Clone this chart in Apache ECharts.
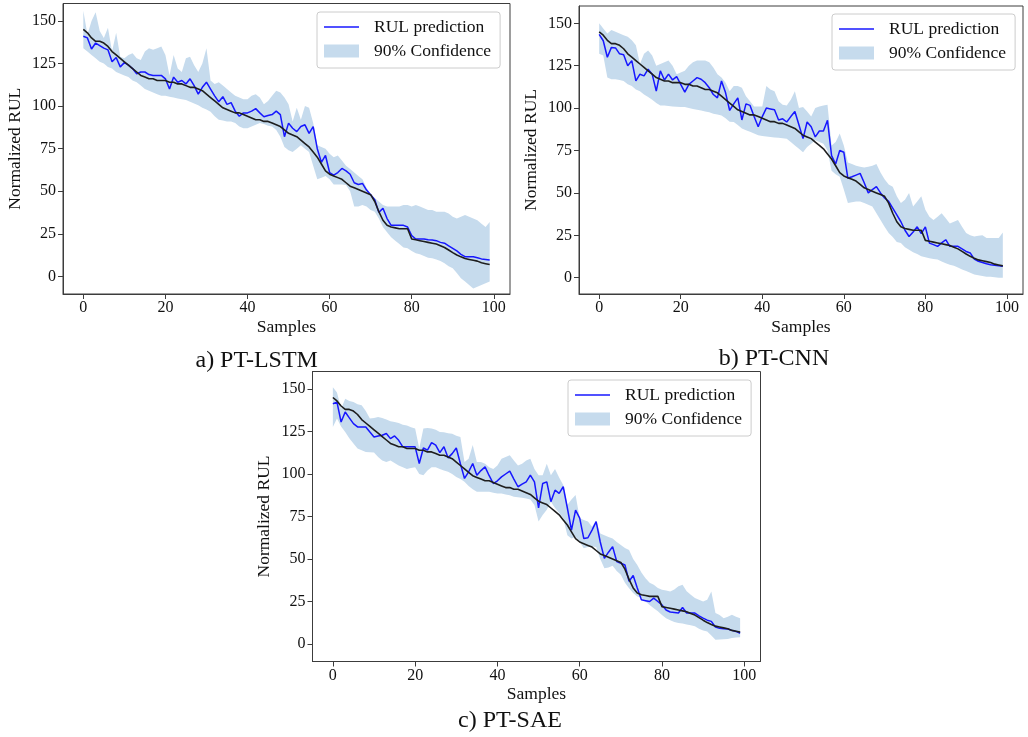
<!DOCTYPE html>
<html>
<head>
<meta charset="utf-8">
<title>RUL prediction</title>
<script src="https://cdn.jsdelivr.net/npm/echarts@6.0.0/dist/echarts.min.js"></script>
<style>
  html, body { margin: 0; padding: 0; background: #fff; }
  #main { width: 1028px; height: 737px; }
</style>
</head>
<body>
<div id="main"></div>
<script>
// 全局样式
const fontFamily = '"Liberation Serif", "Times New Roman", serif';
const textColor = '#111';
const frameColor = '#3c3c3c';
const bandColor = '#c6dbed';
const predColor = '#1717ff';
const trueColor = '#1e1e1e';

// 刻度
const xTicks = [0, 20, 40, 60, 80, 100];
const yTicks = [0, 25, 50, 75, 100, 125, 150];

// 样本编号 0..99
const samples = Array.from({length: 100}, (v, i) => i);

// 真实 RUL（三幅图相同）
const trueRul = [
  145, 143, 140, 138, 138, 137, 135, 132, 130, 128, 126, 124, 122, 120, 118, 117, 116, 116, 115, 115,
  115, 114, 114, 113, 113, 112, 111, 111, 110, 109, 107, 105, 103, 101, 99, 98, 97, 96, 96, 95,
  94, 93, 92, 92, 91, 91, 90, 89, 88, 86, 84, 83, 82, 80, 78, 76, 73, 70, 66, 62,
  60, 59, 58, 57, 55, 53, 52, 51, 50, 49, 48, 44, 38, 33, 30, 29, 28.5, 28, 28, 28,
  22, 21.5, 21, 20.5, 20, 19.5, 19, 18, 17, 15.5, 14, 12.6, 11.5, 10.5, 10, 9.5, 9, 8, 7.5, 7
];

// a) PT-LSTM
const predLSTM = [
  141, 140, 133.5, 137, 135.5, 134, 133, 126, 128.5, 123, 125.5, 124, 122, 119, 120, 120, 118.5, 118, 118, 118,
  116, 110, 117, 114, 115, 113, 116, 112, 107, 111, 114, 110, 106, 102.5, 105.5, 101, 102, 97, 94, 96,
  96, 97, 98.5, 96, 93.7, 94.5, 95, 97, 95, 82, 90, 87, 85, 88, 89, 84, 88, 75, 67, 71,
  61, 59.5, 61, 63.4, 62, 60, 55, 54, 54.6, 50.7, 48, 45, 37.6, 40, 34, 30, 30, 30, 30, 29,
  24, 22, 22, 22, 21.5, 21.4, 21, 20, 19.5, 18, 16.5, 15, 13, 11.6, 11.6, 11.6, 11, 10.3, 10, 9.7
];
const lowLSTM = [
  134, 132, 130, 128, 126, 125, 123, 122, 120, 119, 118, 117, 115, 114, 112, 110, 109, 108, 107, 106,
  106, 105.5, 105, 104.5, 104, 103.5, 102.5, 101.5, 100.5, 99, 98, 96.7, 94, 92, 91.5, 91, 91, 90, 88, 87,
  87, 88, 89, 90, 89.5, 88.5, 88, 86, 82, 76, 74, 73, 75, 77, 75, 73, 65, 57, 58, 59,
  57, 54, 54, 54, 53.7, 50, 41, 41, 42, 41, 39, 38, 34, 29, 26, 23, 21, 19, 17, 16.5,
  15, 13.6, 13, 12, 11, 10.7, 10, 9, 7.7, 6, 4.8, 2, -1, -3, -5, -7, -6, -5, -4, -3
];
const highLSTM = [
  156, 142, 150, 155, 144, 140, 146, 132, 143, 129, 128, 130, 131, 128, 127, 132, 134, 133, 134, 135,
  130, 118, 130, 122, 120, 128, 129, 124, 120, 125, 134, 115, 113, 114, 112, 110, 108, 106, 105, 104,
  104, 106, 107, 105, 101, 103, 106, 109, 108, 105, 101, 91, 99, 92, 100, 99, 90, 77, 76, 75,
  72, 70, 71, 68, 65, 63, 61, 59, 57, 52, 48, 46, 44, 42, 41, 41, 41, 41, 42, 42,
  41, 42, 41, 40, 39, 39, 38, 38, 38, 37, 35, 34, 35, 36, 35, 34, 33, 31, 29, 32
];

// b) PT-CNN
const predCNN = [
  143.5, 139.7, 130, 135.8, 135.5, 132, 131.5, 125, 128, 116, 120, 119, 123, 120, 110, 122, 116.6, 120, 116.6, 118.6,
  114, 109.4, 114, 116, 118, 117, 115, 112, 108, 106, 116, 109, 98.6, 102.5, 106, 93, 102.5, 101.6, 95, 89,
  95, 100, 99.5, 99, 93, 93.7, 91.8, 95, 98, 90, 82, 91.8, 89, 83, 86.5, 86.5, 92.8, 72, 67, 75,
  74, 58.6, 59.5, 60.5, 61.5, 56, 50, 52, 53.7, 50, 47, 45, 41, 37, 33, 28, 24.3, 27, 30, 26,
  30, 20.4, 19.5, 18.5, 20.5, 22.4, 18.5, 18.5, 18.5, 17, 15.5, 14.6, 11, 9.7, 9, 8.2, 7.7, 7.3, 7, 6.7
];
const lowCNN = [
  132, 131, 118, 117, 117, 116.5, 116, 114, 113, 111, 110, 108, 106.5, 105, 103, 101.6, 101.5, 101.2, 101, 100.8,
  100.7, 100.6, 100, 99.5, 99, 98.6, 98, 97.5, 96.7, 96.2, 95.7, 94, 92, 91.8, 90, 88, 87, 86, 85, 84,
  83.5, 83.3, 83, 82.7, 82.5, 82.2, 82, 80, 78, 76, 74, 77, 79, 81, 80, 79, 75, 63, 61, 59.5,
  52, 44, 44.5, 45, 45, 44, 43, 42, 38, 34, 30, 26.3, 24, 21, 20.4, 18, 16.5, 15, 14, 12.6,
  12, 11.5, 11, 10.7, 9.5, 8.5, 7.7, 7, 6, 4.8, 4, 3, 1.9, 1.5, 1, 0.5, 0.5, 0.3, 0, 0
];
const highCNN = [
  150, 147, 144, 146, 145, 144, 143, 142, 140, 137, 126, 132, 134, 131, 125, 126, 127, 128, 125, 120,
  121, 122, 125, 127, 128, 128, 128, 127, 124, 120, 118, 115, 110, 113, 113, 112, 107, 104, 101, 101,
  101, 113, 111, 110, 104, 102, 101.6, 105, 110, 100, 100.6, 98, 95, 100, 101, 101.6, 102, 78, 80, 85,
  78, 68, 67, 66, 65.4, 65, 65.4, 66, 67, 62, 58, 55, 53.7, 48, 44, 46, 50, 42, 45, 48,
  40, 36, 34, 36, 38, 35, 32, 33, 34, 30, 26.3, 25, 24.3, 24.7, 25, 23.4, 23.4, 23.4, 23.4, 26.7
];

// c) PT-SAE
const predSAE = [
  141.3, 142.3, 130.6, 136.5, 133, 129.6, 127.7, 127.7, 127.7, 124.7, 121.8, 122.3, 122.8, 123.8, 120.8, 122.4, 119.8, 116, 116, 116,
  116, 106.2, 115.3, 114, 118.5, 117, 112.6, 116, 109.5, 112, 115.3, 106, 97.4, 101.3, 106.2, 99.3, 102, 104.2, 99, 94.4,
  96, 98.3, 100, 101.7, 97, 92.5, 94, 95.4, 99.3, 95.4, 80, 94.4, 95.4, 83.7, 90.5, 88.6, 92.5, 80, 67, 78.8,
  74, 62, 62.5, 67, 72, 60, 50.4, 54, 57.3, 48.5, 47.5, 46.5, 36.8, 40.3, 33, 26, 25.5, 25, 27, 25,
  23, 20, 18.8, 18.5, 18.2, 21.5, 18.2, 18.2, 18.2, 16.5, 15.2, 14, 13.3, 10, 9.2, 9, 8.8, 8, 7.4, 6.3
];
const lowSAE = [
  127.7, 132.6, 128, 124.7, 121, 118, 115, 114, 113, 112.8, 112.6, 110, 108, 107, 108, 106.5, 105, 104, 103, 103.5,
  104, 100, 99.3, 102, 104, 104, 103, 102, 101.3, 100, 98.3, 97, 95.4, 93, 91, 89.5, 89.5, 89.5, 89.5, 89,
  88.6, 88.6, 88, 87.5, 86.6, 86.3, 86, 85.6, 85, 81.7, 72, 75.9, 79, 83.7, 80, 77, 74, 64, 62, 63,
  60, 56.3, 57, 57.3, 57, 50, 44.6, 45, 46, 43, 40.7, 36, 32.8, 30, 28, 27, 25, 23, 21, 19.2,
  17, 15.2, 14, 13, 12.3, 12, 11.5, 11, 10.4, 9, 8, 7.4, 5, 2.5, 2.7, 2.8, 3, 3.5, 3.8, 3.9
];
const highSAE = [
  151, 148, 138.4, 144.3, 143, 142.3, 141, 140.4, 137, 132.6, 133, 133.5, 133, 132, 131, 130.6, 130, 129, 128.6, 127.5,
  126.7, 115, 126.7, 127, 126.7, 126, 124.7, 124.5, 124, 123.7, 122.5, 121.8, 107, 109, 117, 107, 107, 106, 104, 103,
  105, 109, 110, 111, 108, 105, 106, 108, 109, 103, 99.3, 99.3, 106, 99.3, 103, 98, 93.5, 81.7, 85, 87.6,
  74, 73, 72, 69, 72.5, 65, 64, 63, 62, 60, 58.3, 56.5, 55.3, 50, 46.5, 42, 38.7, 36, 34.8, 33,
  31.9, 31.5, 30.9, 32, 34, 34.8, 31, 29, 27, 26, 25, 26, 30.9, 18.2, 17, 15.2, 16, 17.2, 16, 15.2
];

// 三个子图的布局
const panels = [
  {caption: 'a) PT-LSTM', pred: predLSTM, low: lowLSTM, high: highLSTM,
   grid: {left: 63, top: 3.5, width: 447, height: 290.5}, yRange: [-10.3, 160.2],
   legend: {left: 317, top: 12}, cap: [256.7, 361]},
  {caption: 'b) PT-CNN', pred: predCNN, low: lowCNN, high: highCNN,
   grid: {left: 579, top: 6, width: 444, height: 288}, yRange: [-9.6, 160.2],
   legend: {left: 832, top: 14}, cap: [774, 359]},
  {caption: 'c) PT-SAE', pred: predSAE, low: lowSAE, high: highSAE,
   grid: {left: 312.5, top: 371.5, width: 448, height: 290}, yRange: [-10.3, 160.3],
   legend: {left: 568, top: 380}, cap: [510, 721]}
];

function pairs(values) {
  return samples.map((x, i) => [x, values[i]]);
}

function axisCommon(ticks) {
  return {
    axisLine: {show: true, onZero: false, lineStyle: {color: frameColor, width: 1}},
    axisTick: {show: true, length: 5, customValues: ticks, lineStyle: {color: frameColor, width: 1}},
    axisLabel: {customValues: ticks, fontSize: 16, fontFamily: fontFamily, color: textColor},
    splitLine: {show: false},
    nameTextStyle: {fontSize: 17.5, fontFamily: fontFamily, color: textColor}
  };
}

/**
 * 置信带：一个多边形，上下边界都经坐标系换算
 */
function bandRender(bandData) {
  return function (params, api) {
    if (params.dataIndex !== 0) return;
    let upper = [], lower = [];
    bandData.forEach(d => {
      lower.push(api.coord([d[0], d[1]]));
      upper.push(api.coord([d[0], d[2]]));
    });
    return {
      type: 'polygon',
      shape: {points: lower.concat(upper.reverse())},
      style: {fill: bandColor}
    };
  };
}

let grid = [], xAxis = [], yAxis = [], series = [], legend = [], title = [];

panels.forEach((p, k) => {
  grid.push(Object.assign({show: true, borderColor: frameColor, borderWidth: 1, backgroundColor: 'transparent'}, p.grid));

  let xa = axisCommon(xTicks);
  xa.axisLabel.margin = 6;
  xAxis.push(Object.assign(xa, {
    type: 'value', gridIndex: k, min: -4.95, max: 103.95,
    name: 'Samples', nameLocation: 'middle', nameGap: 24
  }));

  let ya = axisCommon(yTicks);
  ya.axisLabel.margin = 7;
  yAxis.push(Object.assign(ya, {
    type: 'value', gridIndex: k, min: p.yRange[0], max: p.yRange[1],
    name: 'Normalized RUL', nameLocation: 'middle', nameGap: 39, nameRotate: 90
  }));

  // 置信区间
  let bandData = samples.map((x, i) => [x, p.low[i], p.high[i]]);
  series.push({
    name: '90% Confidence', type: 'custom', xAxisIndex: k, yAxisIndex: k,
    data: bandData, encode: {x: 0, y: [1, 2]},
    renderItem: bandRender(bandData),
    silent: true, z: 1, itemStyle: {color: bandColor}
  });
  // 预测
  series.push({
    name: 'RUL prediction', type: 'line', xAxisIndex: k, yAxisIndex: k,
    data: pairs(p.pred), symbol: 'none', silent: true, z: 3, color: predColor,
    lineStyle: {width: 1.5, color: predColor}
  });
  // 真实值
  series.push({
    name: 'True RUL', type: 'line', xAxisIndex: k, yAxisIndex: k,
    data: pairs(trueRul), symbol: 'none', silent: true, z: 4, color: trueColor,
    lineStyle: {width: 1.6, color: trueColor}
  });

  legend.push({
    orient: 'vertical', left: p.legend.left, top: p.legend.top,
    data: [
      {name: 'RUL prediction', icon: 'path://M0,0L35,0L35,1.6L0,1.6Z', itemStyle: {color: predColor, borderWidth: 0}},
      {name: '90% Confidence', icon: 'rect', itemStyle: {color: bandColor, borderWidth: 0}}
    ],
    itemWidth: 35, itemHeight: 13, itemGap: 6,
    padding: [6, 9, 8, 7],
    borderColor: '#cccccc', borderWidth: 1, borderRadius: 3, backgroundColor: '#ffffff',
    selectedMode: false,
    textStyle: {fontSize: 17.5, fontFamily: fontFamily, color: textColor, lineHeight: 18, padding: [0, 0, 0, 10]}
  });

  title.push({
    text: p.caption, left: p.cap[0], top: p.cap[1] - 12, textAlign: 'center', padding: 0,
    textStyle: {fontSize: 24, fontWeight: 'normal', fontFamily: fontFamily, color: textColor}
  });
});

let chart = echarts.init(document.getElementById('main'));
chart.setOption({
  backgroundColor: '#ffffff',
  animation: false,
  textStyle: {fontFamily: fontFamily},
  title: title,
  grid: grid,
  xAxis: xAxis,
  yAxis: yAxis,
  legend: legend,
  series: series
});
</script>
</body>
</html>
